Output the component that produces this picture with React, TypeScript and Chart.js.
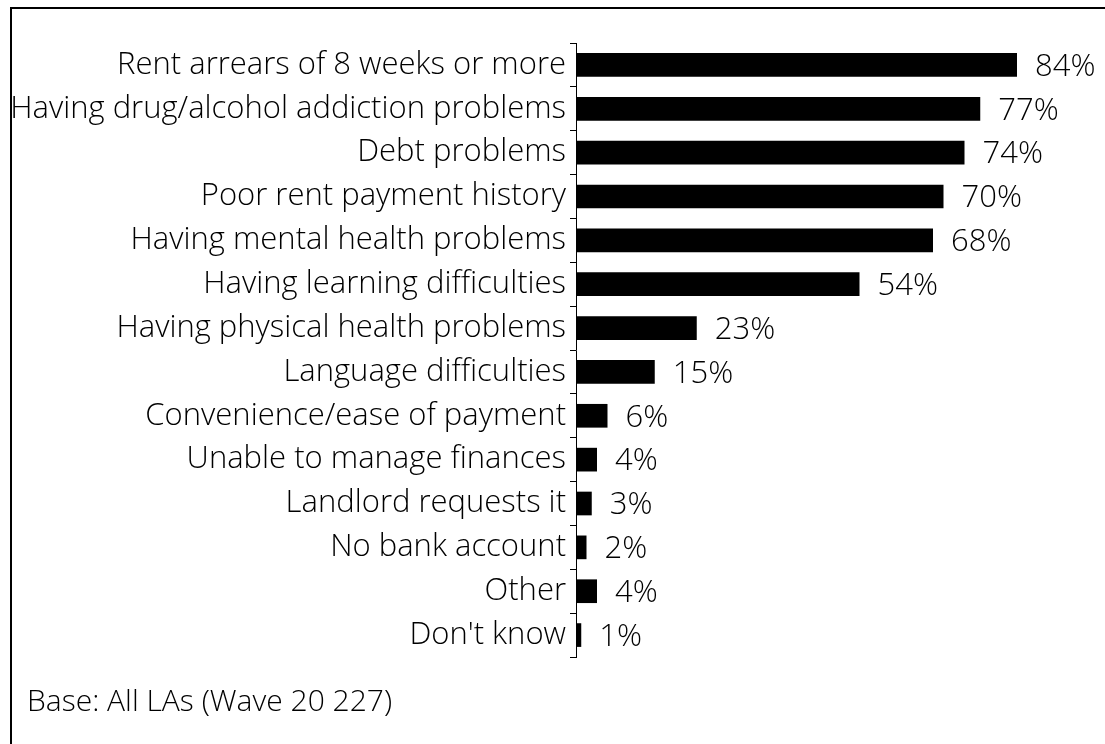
import React, { useEffect, useRef } from "react";
import { Chart, registerables } from "chart.js";

Chart.register(...registerables);

const categories: string[] = [
  "Rent arrears of 8 weeks or more",
  "Having drug/alcohol addiction problems",
  "Debt problems",
  "Poor rent payment history",
  "Having mental health problems",
  "Having learning difficulties",
  "Having physical health problems",
  "Language difficulties",
  "Convenience/ease of payment",
  "Unable to manage finances",
  "Landlord requests it",
  "No bank account",
  "Other",
  "Don't know",
];

const values: number[] = [84, 77, 74, 70, 68, 54, 23, 15, 6, 4, 3, 2, 4, 1];

const footnote = "Base: All LAs (Wave 20 227)";

const FONT_FAMILY = "'Open Sans', sans-serif";
const FONT_WEIGHT = 350;
const FONT_SIZE = 31;
const VALUE_FONT_SIZE = 31;

const valueLabelPlugin = {
  id: "valueLabels",
  afterDatasetsDraw(chart: any) {
    const ctx = chart.ctx;
    const meta = chart.getDatasetMeta(0);
    ctx.save();
    ctx.font = `${FONT_WEIGHT} ${VALUE_FONT_SIZE}px ${FONT_FAMILY}`;
    ctx.fillStyle = "#000";
    ctx.textAlign = "left";
    ctx.textBaseline = "middle";
    meta.data.forEach((bar: any, i: number) => {
      const v = chart.data.datasets[0].data[i];
      ctx.fillText(`${v}%`, bar.x + 18, bar.y + 2);
    });
    ctx.restore();
  },
};

export default function App() {
  const canvasRef = useRef<HTMLCanvasElement | null>(null);

  useEffect(() => {
    if (!canvasRef.current) return;
    const chart = new Chart(canvasRef.current, {
      type: "bar",
      data: {
        labels: categories,
        datasets: [
          {
            data: values,
            backgroundColor: "#000",
            borderWidth: 0,
            barPercentage: 0.54,
            categoryPercentage: 1,
          },
        ],
      },
      options: {
        indexAxis: "y",
        responsive: false,
        animation: false,
        devicePixelRatio: 1,
        layout: { padding: { left: 0, top: 43, right: 4, bottom: 87 } },
        plugins: {
          legend: { display: false },
          tooltip: { enabled: false },
        },
        scales: {
          x: { display: false, min: 0, max: 100 },
          y: {
            afterFit(scale: any) {
              scale.width = 576;
            },
            ticks: {
              color: "#000",
              padding: 4,
              font: { family: FONT_FAMILY, size: FONT_SIZE, weight: FONT_WEIGHT },
              autoSkip: false,
            },
            grid: {
              offset: true,
              drawOnChartArea: false,
              tickLength: 6,
              color: "#000",
              lineWidth: 1,
            },
            border: { display: true, color: "#000", width: 1 },
          },
        },
      },
      plugins: [valueLabelPlugin],
    });
    return () => chart.destroy();
  }, []);

  return (
    <div
      style={{
        position: "fixed",
        left: 0,
        top: 0,
        width: 1105,
        height: 744,
        overflow: "hidden",
        background: "#fff",
      }}
    >
      <canvas
        ref={canvasRef}
        width={1105}
        height={744}
        style={{ position: "absolute", left: 0, top: 0 }}
      />
      <div
        style={{
          position: "absolute",
          left: 10,
          top: 7,
          width: 1200,
          height: 800,
          borderLeft: "2px solid #000",
          borderTop: "2px solid #000",
        }}
      />
      <div
        style={{
          position: "absolute",
          left: 27,
          top: 680,
          fontFamily: FONT_FAMILY,
          fontWeight: FONT_WEIGHT,
          fontSize: 30,
          lineHeight: "40px",
          color: "#000",
          whiteSpace: "nowrap",
        }}
      >
        {footnote}
      </div>
    </div>
  );
}
